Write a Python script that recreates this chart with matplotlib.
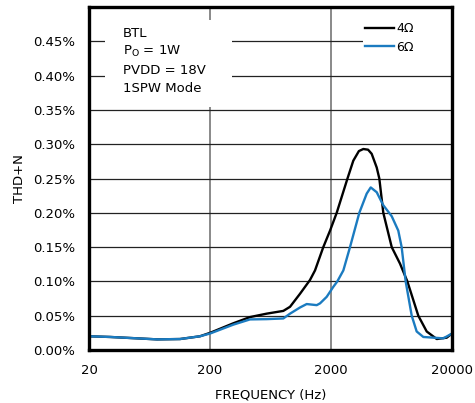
import numpy as np
import matplotlib
matplotlib.use('Agg')
import matplotlib.pyplot as plt
from matplotlib.patches import Rectangle
from matplotlib.ticker import FuncFormatter, FixedLocator, NullLocator

# Données (THD+N en %)
freq_4 = [20, 30, 50, 73, 113, 165, 200, 312, 428, 588, 807, 917, 1109, 1340, 1475,
          1727, 1963, 2229, 2736, 3057, 3400, 3699, 4050, 4337, 4773, 5015, 5410, 6350,
          7430, 8550, 10530, 12360, 14960, 18090, 20000]
thd_4 = [0.020, 0.019, 0.017, 0.0155, 0.016, 0.020, 0.025, 0.039, 0.048, 0.053, 0.057,
         0.063, 0.082, 0.102, 0.116, 0.150, 0.174, 0.200, 0.250, 0.276, 0.290, 0.293,
         0.292, 0.286, 0.266, 0.250, 0.200, 0.150, 0.126, 0.100, 0.050, 0.027, 0.016,
         0.018, 0.024]

freq_6 = [20, 30, 50, 73, 113, 165, 200, 312, 428, 588, 807, 917, 1109, 1259, 1524,
          1623, 1842, 2088, 2255, 2529, 2871, 3428, 3945, 4258, 4773, 5410, 6350, 7195,
          7670, 8280, 9290, 10210, 11590, 14020, 16960, 20000]
thd_6 = [0.020, 0.019, 0.017, 0.0155, 0.016, 0.020, 0.024, 0.037, 0.0446, 0.045, 0.046,
         0.053, 0.062, 0.067, 0.0654, 0.068, 0.0775, 0.092, 0.100, 0.116, 0.150, 0.200,
         0.228, 0.237, 0.230, 0.211, 0.195, 0.174, 0.150, 0.100, 0.050, 0.027, 0.019,
         0.018, 0.017, 0.024]

x_ticks = [20, 200, 2000, 20000]
y_ticks = [0.00, 0.05, 0.10, 0.15, 0.20, 0.25, 0.30, 0.35, 0.40, 0.45]
info_lines = ['BTL', r'P$_{\mathregular{O}}$ = 1W', 'PVDD = 18V', '1SPW Mode']

blue = '#1b7bc0'

fig = plt.figure(figsize=(4.75, 4.03), dpi=100)
ax = fig.add_axes([0.1874, 0.1315, 0.7642, 0.8511])

ax.plot(freq_4, thd_4, color='black', lw=1.7, label='4Ω', solid_joinstyle='round', zorder=3)
ax.plot(freq_6, thd_6, color=blue, lw=1.7, label='6Ω', solid_joinstyle='round', zorder=3)

ax.set_xscale('log')
ax.set_xlim(20, 20000)
ax.set_ylim(0, 0.5)
ax.xaxis.set_major_locator(FixedLocator(x_ticks))
ax.xaxis.set_minor_locator(NullLocator())
ax.xaxis.set_major_formatter(FuncFormatter(lambda v, p: f'{v:.0f}'))
ax.yaxis.set_major_locator(FixedLocator(y_ticks))
ax.yaxis.set_major_formatter(FuncFormatter(lambda v, p: f'{v:.2f}%'))
ax.tick_params(length=0, labelsize=9.5, pad=10)

ax.set_axisbelow(True)
ax.yaxis.grid(True, color='#222222', lw=0.9)
ax.xaxis.grid(True, color='#808080', lw=1.3)

for s in ax.spines.values():
    s.set_linewidth(2.4)
    s.set_zorder(5)

ax.set_xlabel('FREQUENCY (Hz)', fontsize=9.5, labelpad=8)
ax.set_ylabel('THD+N', fontsize=9.5, labelpad=5)

# Cadre blanc pour le texte d'information
ax.add_patch(Rectangle((0.044, 0.708), 0.35, 0.254, transform=ax.transAxes,
                       facecolor='white', edgecolor='none', zorder=1))
for txt, yy in zip(info_lines, [0.924, 0.869, 0.816, 0.761]):
    ax.text(0.094, yy, txt, transform=ax.transAxes, fontsize=9.5, va='center', zorder=4)

# Cadre blanc pour la légende
ax.add_patch(Rectangle((0.755, 0.86), 0.25, 0.15, transform=ax.transAxes,
                       facecolor='white', edgecolor='none', zorder=1))
ax.legend(loc='upper left', bbox_to_anchor=(0.76, 0.956), frameon=False, fontsize=9,
          handlelength=2.3, handletextpad=0.2, borderaxespad=0, borderpad=0,
          labelspacing=0.45)

fig.savefig('out.png', dpi=100)
